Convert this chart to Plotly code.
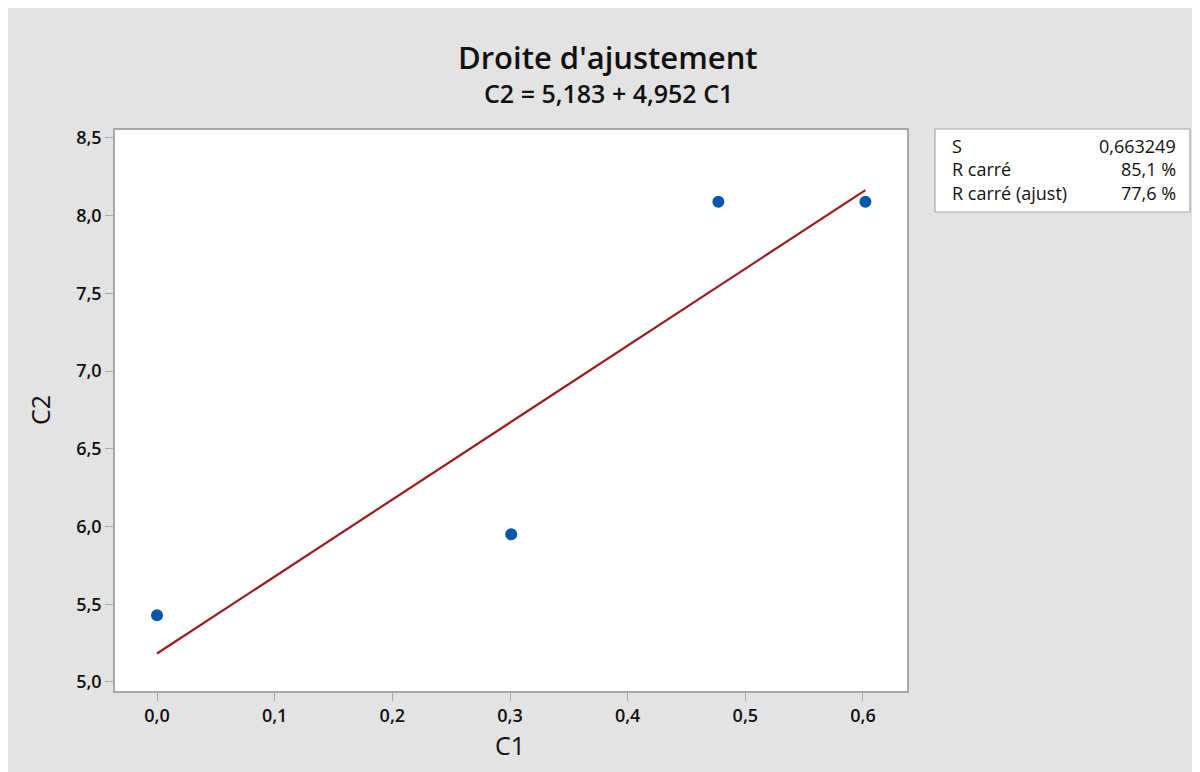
import plotly.graph_objects as go

# Data
c1 = [0.0, 0.30103, 0.47712, 0.60206]
c2 = [5.43, 5.95, 8.09, 8.09]
intercept = 5.183
slope = 4.952
fit_x = [0.0, 0.60206]
fit_y = [intercept + slope * x for x in fit_x]

stat_labels = ["S", "R carré", "R carré (ajust)"]
stat_values = ["0,663249", "85,1 %", "77,6 %"]

W, H = 1200, 772
OFF = 8  # page body margin
# plot area in screenshot pixels: x 115-907, y 130-691
L = 115 - OFF
T = 130 - OFF
R = W - (907 - OFF)
B = H - (691 - OFF)
pw, ph = W - L - R, H - T - B

def px(x):
    return (x - OFF - L) / pw

def py(y):
    return (H - B - (y - OFF)) / ph

FONT = "Open Sans"
fig = go.Figure()
fig.add_trace(go.Scatter(x=fit_x, y=fit_y, mode="lines",
                         line=dict(color="#9b1b1f", width=2.2), showlegend=False))
fig.add_trace(go.Scatter(x=c1, y=c2, mode="markers",
                         marker=dict(color="#0a56a8", size=12), showlegend=False))

shapes = [
    dict(type="rect", xref="paper", yref="paper", x0=px(935), x1=px(1190), y0=py(129), y1=py(212),
         fillcolor="white", line=dict(color="#a8a8a8", width=1.2)),
]

def ann(text, x, y, size, xanchor="center", angle=0, weight="normal"):
    return dict(text=text, x=px(x), y=py(y), xref="paper", yref="paper",
                xanchor=xanchor, yanchor="middle", showarrow=False, textangle=angle,
                font=dict(family=FONT, size=size, color="#111", weight=weight))

annotations = [
    ann("Droite d'ajustement", 608, 57, 31, weight=600),
    ann("C2 = 5,183 + 4,952 C1", 608, 93, 25, weight=600),
    ann("C1", 510, 745, 25),
    ann("C2", 40, 410, 25, angle=-90),
]
rows_y = [146, 169, 193]
for lab, val, yy in zip(stat_labels, stat_values, rows_y):
    annotations.append(ann(lab, 950, yy, 18, xanchor="left"))
    annotations.append(ann(val, 1178, yy, 18, xanchor="right"))

fig.update_layout(
    width=W, height=H,
    margin=dict(l=L, r=R, t=T, b=B),
    paper_bgcolor="#e3e3e3", plot_bgcolor="white",
    separators=", ",
    shapes=shapes, annotations=annotations,
    font=dict(family=FONT, color="#111"),
)
axis_common = dict(showline=True, linecolor="#a8a8a8", linewidth=1.5, mirror=True,
                   ticks="outside", ticklen=8, tickcolor="#a8a8a8", tickwidth=1.2,
                   showgrid=False, zeroline=False, tickformat=".1f",
                   tickfont=dict(family=FONT, size=18, color="#111", weight=600))
fig.update_xaxes(range=[-0.0357, 0.6374], tickvals=[0, 0.1, 0.2, 0.3, 0.4, 0.5, 0.6],
                 **axis_common)
fig.update_yaxes(range=[4.942, 8.551], tickvals=[5.0, 5.5, 6.0, 6.5, 7.0, 7.5, 8.0, 8.5],
                 **axis_common)

fig.write_html("out.html")
